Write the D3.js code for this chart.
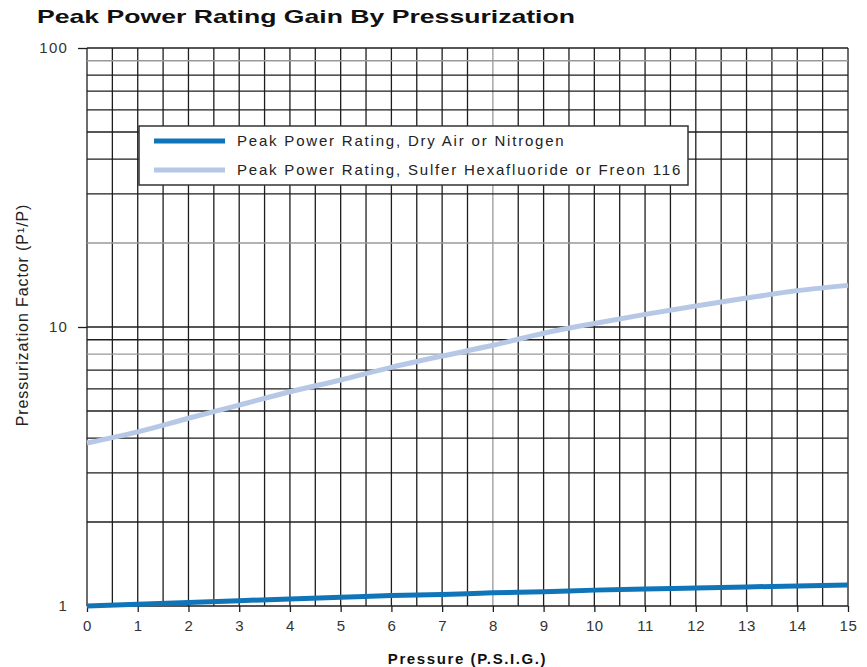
<!DOCTYPE html>
<html>
<head>
<meta charset="utf-8">
<script src="https://cdn.jsdelivr.net/npm/d3@7"></script>
<style>
	body { margin: 0; background: #fff; }
	text { font-family: "Liberation Sans", Arial, sans-serif; }
</style>
</head>
<body>
<svg id="chart" width="867" height="667"></svg>
<script>
// values
const pressure = [0, 1, 2, 3, 4, 5, 6, 7, 8, 9, 10, 11, 12, 13, 14, 15];
const dryAir = [1.00, 1.015, 1.03, 1.045, 1.06, 1.075, 1.09, 1.10, 1.115, 1.125, 1.14, 1.15, 1.16, 1.17, 1.18, 1.19];
const sulfer = [3.84, 4.21, 4.71, 5.25, 5.86, 6.46, 7.17, 7.87, 8.6, 9.5, 10.3, 11.1, 11.9, 12.7, 13.5, 14.1];
const seriesNames = ['Peak Power Rating, Dry Air or Nitrogen', 'Peak Power Rating, Sulfer Hexafluoride or Freon 116'];
const yTickValues = [1, 10, 100];
const xTickValues = pressure;
const paleGridX = [8];
const paleGridY = [8, 20, 90];

const width = 867, height = 667;
const margin = { top: 48, right: 19, bottom: 61, left: 87 };
const svg = d3.select('#chart');

const x = d3.scaleLinear().domain([0, 15]).range([margin.left, width - margin.right]);
const y = d3.scaleLog().domain([1, 100]).range([height - margin.bottom, margin.top]);

// title - the original uses a wide black face, so stretch it
svg.append('text')
	.attr('x', 37).attr('y', 23)
	.attr('font-size', 19).attr('font-weight', 900)
	.attr('textLength', 538).attr('lengthAdjust', 'spacingAndGlyphs')
	.attr('fill', '#111')
	.text('Peak Power Rating Gain By Pressurization');

// grid
const grid = svg.append('g');
grid.selectAll('line.gx')
	.data(d3.range(0, 15.01, 0.5))
	.join('line')
	.attr('class', 'gx')
	.attr('x1', (d) => x(d)).attr('x2', (d) => x(d))
	.attr('y1', y(100)).attr('y2', y(1))
	.attr('stroke', (d) => paleGridX.includes(d) ? '#999' : '#1e1e1e')
	.attr('stroke-width', 1.3);

grid.selectAll('line.gy')
	.data(y.ticks())
	.join('line')
	.attr('class', 'gy')
	.attr('x1', x(0)).attr('x2', x(15))
	.attr('y1', (d) => y(d)).attr('y2', (d) => y(d))
	.attr('stroke', (d) => paleGridY.includes(d) ? '#999' : '#1e1e1e')
	.attr('stroke-width', 1.3);

// axes
const xAxis = svg.append('g')
	.attr('transform', `translate(0,${y(1)})`)
	.call(d3.axisBottom(x).tickValues(xTickValues).tickSize(6).tickSizeOuter(0).tickPadding(8).tickFormat(d3.format('d')));
xAxis.select('.domain').remove();
xAxis.selectAll('.tick line').attr('stroke', '#1e1e1e').attr('stroke-width', 1.3);
xAxis.selectAll('.tick text')
	.attr('font-family', '"Liberation Sans", Arial, sans-serif')
	.attr('font-size', 15).attr('letter-spacing', 0.6).attr('fill', '#333');

const yAxis = svg.append('g')
	.attr('transform', `translate(${x(0)},0)`)
	.call(d3.axisLeft(y).tickValues(yTickValues).tickSize(9).tickSizeOuter(0).tickPadding(10).tickFormat(d3.format('d')));
yAxis.select('.domain').remove();
yAxis.selectAll('.tick line')
	.attr('stroke', '#1e1e1e').attr('stroke-width', 1.3)
	.attr('opacity', (d) => d == 1 ? 0 : 1);
yAxis.selectAll('.tick text')
	.attr('font-family', '"Liberation Sans", Arial, sans-serif')
	.attr('font-size', 15).attr('letter-spacing', 1.2).attr('fill', '#333');

// axis titles
svg.append('text')
	.attr('x', (x(0) + x(15)) / 2).attr('y', 664)
	.attr('text-anchor', 'middle')
	.attr('font-size', 15).attr('font-weight', 700)
	.attr('letter-spacing', 1.6)
	.attr('fill', '#111')
	.text('Pressure (P.S.I.G.)');

svg.append('text')
	.attr('transform', `translate(28,${y(10) - 12}) rotate(-90)`)
	.attr('text-anchor', 'middle')
	.attr('font-size', 16)
	.attr('letter-spacing', 0.9)
	.attr('fill', '#222')
	.text('Pressurization Factor (P¹/P)');

// lines
const lineGen = d3.line()
	.x((d) => x(d[0]))
	.y((d) => y(d[1]))
	.curve(d3.curveMonotoneX);

const series = [
	{ name: seriesNames[0], values: dryAir, color: '#0f74b8' },
	{ name: seriesNames[1], values: sulfer, color: '#b7c8e6' }
];

svg.selectAll('path.series')
	.data(series)
	.join('path')
	.attr('class', 'series')
	.attr('d', (s) => lineGen(pressure.map((p, i) => [p, s.values[i]])))
	.attr('fill', 'none')
	.attr('stroke', (s) => s.color)
	.attr('stroke-width', 5);

// legend
const legend = svg.append('g').attr('transform', 'translate(139,126)');
legend.append('rect')
	.attr('width', 549).attr('height', 59)
	.attr('fill', '#fff')
	.attr('stroke', '#333').attr('stroke-width', 1.5);

const items = legend.selectAll('g.item')
	.data(series)
	.join('g')
	.attr('class', 'item')
	.attr('transform', (d, i) => `translate(0,${15 + i * 29})`);
items.append('line')
	.attr('x1', 15).attr('x2', 86)
	.attr('stroke', (d) => d.color)
	.attr('stroke-width', 5);
items.append('text')
	.attr('x', 98).attr('dy', '0.35em')
	.attr('font-size', 15)
	.attr('letter-spacing', 1.8)
	.attr('fill', '#222')
	.text((d) => d.name);
</script>
</body>
</html>
